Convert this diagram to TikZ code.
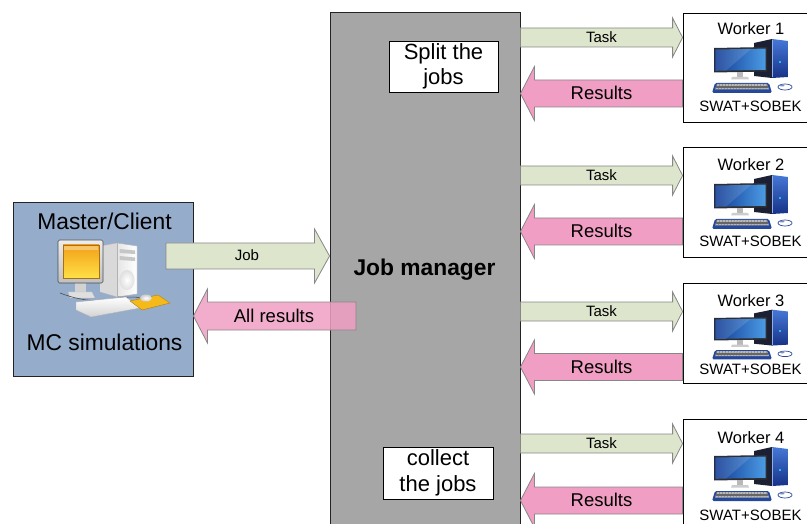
\documentclass[tikz,border=0pt]{standalone}
\usepackage{fontspec}
\setmainfont{Liberation Sans}
\usetikzlibrary{calc}

\definecolor{jmgray}{RGB}{166,166,166}
\definecolor{masterblue}{RGB}{149,172,203}
\definecolor{taskgreen}{RGB}{221,229,205}
\definecolor{respink}{RGB}{240,158,195}
\definecolor{arrowline}{RGB}{135,135,135}
\definecolor{boxline}{RGB}{35,35,35}
\definecolor{towerside}{RGB}{28,32,52}
\definecolor{towerlight}{RGB}{70,120,215}
\definecolor{towerdark}{RGB}{22,50,135}
\definecolor{screenlight}{RGB}{75,155,228}
\definecolor{screendark}{RGB}{18,60,150}
\definecolor{kbblue}{RGB}{38,72,155}
\definecolor{crtyellow}{RGB}{255,224,70}
\definecolor{crtorange}{RGB}{242,160,25}
\definecolor{padyellow}{RGB}{245,185,25}

% Horizontal block arrow: style, tail point, tip point,
% body half-height, head half-height, head length (negative = points left)
\newcommand\blockarrow[6]{%
  \draw[#1] let \p1=(#2), \p2=(#3) in
    ({\x1},{\y2+#4}) -- ({\x2-(#6)},{\y2+#4}) -- ({\x2-(#6)},{\y2+#5}) -- (\p2)
    -- ({\x2-(#6)},{\y2-#5}) -- ({\x2-(#6)},{\y2-#4}) -- ({\x1},{\y2-#4}) -- cycle;}

\tikzset{
  jmbox/.style={draw=boxline, fill=jmgray, line width=0.9pt, inner sep=0pt},
  masterbox/.style={draw=boxline, fill=masterblue, line width=0.9pt, inner sep=0pt},
  wbox/.style={draw=black, fill=white, line width=0.8pt, inner sep=0pt, minimum width=135pt},
  notebox/.style={draw=black, fill=white, line width=0.8pt, inner sep=0pt, align=center,
    font=\fontsize{22}{25.5}\selectfont},
  taskarrow/.style={draw=arrowline, fill=taskgreen, line width=0.8pt},
  resarrow/.style={draw=arrowline, fill=respink, line width=0.8pt},
  lbl/.style={inner sep=0pt, anchor=base},
  tasklbl/.style={lbl, font=\fontsize{15}{18}\selectfont},
  reslbl/.style={lbl, font=\fontsize{18.5}{22}\selectfont},
  wtitle/.style={lbl, font=\fontsize{16.5}{20}\selectfont},
  wsub/.style={lbl, font=\fontsize{15}{18}\selectfont},
  % desktop PC with flat monitor and blue tower
  workerpc/.pic={
    \fill[towerside] (3,8) -- (21,4) -- (21,43) -- (3,41) -- cycle;
    \shade[top color=towerlight, bottom color=towerdark]
      (21,4) -- (37,6) -- (37,42) -- (21,43) -- cycle;
    \draw[towerlight!60!white, line width=0.5pt] (21.5,5) -- (21.5,42.5);
    \fill[towerlight!50!cyan] (28,26) rectangle (30,28);
    \fill[black!82] (-37,13) -- (16,12) -- (16,36.5) -- (-37,37.5) -- cycle;
    \shade[left color=screendark, right color=screenlight]
      (-35.5,14.5) -- (14.5,13.6) -- (14.5,34.8) -- (-35.5,35.8) -- cycle;
    \fill[white, opacity=0.12] (-35.5,14.5) -- (0,13.9) -- (-25,35.6) -- (-35.5,35.8) -- cycle;
    \fill[gray!55] (-14,37) rectangle (-8,42);
    \fill[gray!40] (-19,42) -- (-3,42) -- (-2,44.5) -- (-20,44.5) -- cycle;
    \fill[kbblue, rounded corners=1.5pt] (-36,48) -- (18,48) -- (21,58) -- (-39,58) -- cycle;
    \fill[gray!55] (-34,49) -- (16,49) -- (18,54.5) -- (-36,54.5) -- cycle;
    \foreach \r in {50.8,52.6} \draw[black!60, line width=0.35pt] (-35,\r) -- (17,\r);
    \foreach \k in {0,...,17}
      \draw[black!60, line width=0.3pt] ({-34+2.9*\k},49) -- ({-36+3.0*\k},54.5);
    \filldraw[fill=white, draw=kbblue, line width=0.7pt] (34,52) ellipse (7pt and 3pt);
    \fill[kbblue!60] (31,50.5) ellipse (2.5pt and 1pt);
  }
}

\begin{document}
\begin{tikzpicture}[x=1pt, y=-1pt]
\useasboundingbox (0,0) rectangle (807,524);

% ---- main boxes ----
\node[jmbox, minimum width=190pt, minimum height=518pt] (jm) at (425,271) {};
\node[lbl, font=\bfseries\fontsize{22.8}{26}\selectfont] (jmlabel) at (424.5,276) {Job manager};

\node[notebox, minimum width=109pt, minimum height=51pt] (split) at (443.5,66.5) {Split the\\jobs};
\node[notebox, minimum width=110pt, minimum height=52pt] (collect) at (438,473) {collect\\the jobs};

\node[masterbox, minimum width=180pt, minimum height=174pt] (master) at (103,289) {};
\node[lbl, font=\fontsize{22.8}{26}\selectfont] (mtitle) at (104.5,230) {Master/Client};
\node[lbl, font=\fontsize{22.8}{26}\selectfont] (msub) at (104.5,350) {MC simulations};

% ---- master workstation (CRT style) ----
\fill[gray!30] (100,246) -- (117,243) -- (117,297) -- (100,292) -- cycle;
\shade[left color=gray!20, right color=white] (117,243) -- (137,246) -- (137,294) -- (117,297) -- cycle;
\draw[gray!60, line width=0.4pt] (100,246) -- (117,243) -- (137,246) -- (137,294) -- (117,297) -- (100,292);
\draw[gray!60, line width=0.4pt] (117,243) -- (117,297);
\fill[gray!45] (119.5,249) -- (135,250.5) -- (135,254) -- (119.5,253) -- cycle;
\fill[gray!45] (119.5,256) -- (135,257.5) -- (135,261) -- (119.5,260) -- cycle;
\shade[inner color=white, outer color=gray!25] (127,280) ellipse (7.5pt and 10pt);
\fill[gray!35] (75,282) rectangle (86,292);
\fill[gray!25] (68,292) -- (92,292) -- (95,298) -- (70,298) -- cycle;
\draw[gray!55, line width=0.4pt] (68,292) -- (92,292) -- (95,298) -- (70,298) -- cycle;
\shade[top color=gray!15, bottom color=gray!50, rounded corners=1.5pt]
  (58,240) rectangle (103,283);
\draw[gray!60!black, line width=0.6pt, rounded corners=1.5pt] (58,240) rectangle (103,283);
\shade[top color=crtorange, bottom color=crtyellow] (63,245) rectangle (99,278);
\draw[crtorange!70!black, line width=0.5pt] (63,245) rectangle (99,278);
\fill[white, opacity=0.35] (64,246) rectangle (98,250);
\draw[black!70, line width=0.6pt] (100,300) .. controls (88,302) and (70,297) .. (60,293);
\draw[black!70, line width=0.6pt] (140,298) .. controls (135,296) and (125,298) .. (118,297);
\shade[top color=white, bottom color=gray!35] (76,302) -- (126,297) -- (140,308) -- (91,317) -- (76,310) -- cycle;
\draw[gray!60, line width=0.4pt] (76,302) -- (126,297) -- (140,308) -- (91,317) -- (76,310) -- cycle;
\fill[padyellow] (130,301) -- (158,295) -- (170,303) -- (142,310) -- cycle;
\draw[padyellow!70!black, line width=0.4pt] (130,301) -- (158,295) -- (170,303) -- (142,310) -- cycle;
\shade[inner color=white, outer color=gray!40] (146,298) ellipse (6pt and 3.5pt);

% ---- workers ----
\node[wbox, minimum height=109pt] (w1) at (750.5,67.5) {};
\node[wbox, minimum height=110pt] (w2) at (750.5,202) {};
\node[wbox, minimum height=100pt] (w3) at (750.5,333) {};
\node[wbox, minimum height=111pt] (w4) at (750.5,474.5) {};

\node[wtitle] (w1t) at (751,35) {Worker 1};
\node[wtitle] (w2t) at (751,171) {Worker 2};
\node[wtitle] (w3t) at (751,306) {Worker 3};
\node[wtitle] (w4t) at (751,443) {Worker 4};

\pic (pc1) at (751,35) {workerpc};
\pic (pc2) at (751,171) {workerpc};
\pic[yscale=0.92] (pc3) at (751,306) {workerpc};
\pic (pc4) at (751,443) {workerpc};

\node[wsub] (w1s) at (750.5,112) {SWAT+SOBEK};
\node[wsub] (w2s) at (750.5,247) {SWAT+SOBEK};
\node[wsub] (w3s) at (750.5,374) {SWAT+SOBEK};
\node[wsub] (w4s) at (750.5,520) {SWAT+SOBEK};

% ---- row levels of the block arrows ----
\coordinate (t1) at (0,37.5);
\coordinate (t2) at (0,175.5);
\coordinate (t3) at (0,311.5);
\coordinate (t4) at (0,443.5);
\coordinate (r1) at (0,93.5);
\coordinate (r2) at (0,231.5);
\coordinate (r3) at (0,367);
\coordinate (r4) at (0,500.5);
\coordinate (jobtail) at (166,256);
\coordinate (alltail) at (356,316);

% ---- master <-> job manager ----
\blockarrow{taskarrow}{jobtail}{jm.west |- jobtail}{13pt}{27pt}{15pt}
\node[tasklbl] (joblbl) at (247,261) {Job};
\blockarrow{resarrow, fill opacity=0.85}{alltail}{master.east |- alltail}{14pt}{27pt}{-14pt}
\node[reslbl] (alllbl) at (274,322) {All results};

% ---- job manager <-> workers ----
\blockarrow{taskarrow}{jm.east |- t1}{w1.west |- t1}{9.5pt}{19.5pt}{10pt}
\blockarrow{taskarrow}{jm.east |- t2}{w2.west |- t2}{9.5pt}{19.5pt}{10pt}
\blockarrow{taskarrow}{jm.east |- t3}{w3.west |- t3}{9.5pt}{19.5pt}{10pt}
\blockarrow{taskarrow}{jm.east |- t4}{w4.west |- t4}{9.5pt}{19.5pt}{10pt}
\blockarrow{resarrow}{w1.west |- r1}{jm.east |- r1}{13.5pt}{27pt}{-14pt}
\blockarrow{resarrow}{w2.west |- r2}{jm.east |- r2}{13.5pt}{27pt}{-14pt}
\blockarrow{resarrow}{w3.west |- r3}{jm.east |- r3}{13.5pt}{27pt}{-14pt}
\blockarrow{resarrow}{w4.west |- r4}{jm.east |- r4}{13.5pt}{27pt}{-14pt}

\node[tasklbl] (task1) at (601.5,42.5) {Task};
\node[tasklbl] (task2) at (601.5,180.5) {Task};
\node[tasklbl] (task3) at (601.5,316.5) {Task};
\node[tasklbl] (task4) at (601.5,448.5) {Task};
\node[reslbl] (res1) at (601.5,99.5) {Results};
\node[reslbl] (res2) at (601.5,237.5) {Results};
\node[reslbl] (res3) at (601.5,373) {Results};
\node[reslbl] (res4) at (601.5,506.5) {Results};
\end{tikzpicture}
\end{document}
